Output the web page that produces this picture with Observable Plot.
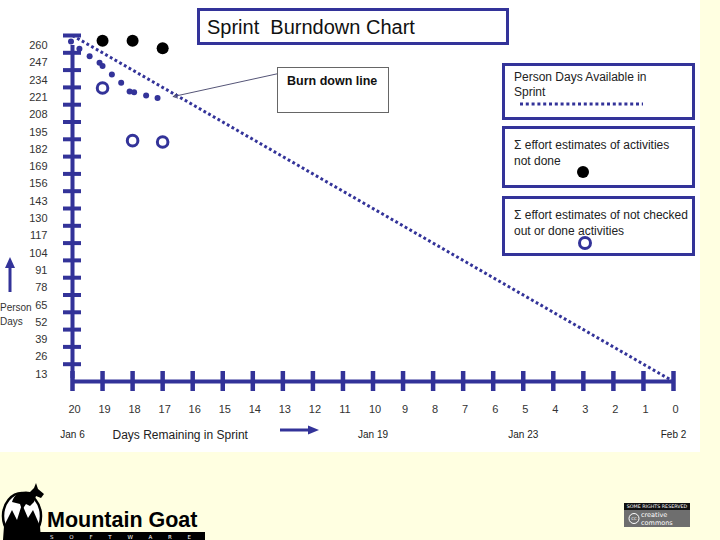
<!DOCTYPE html>
<html>
<head>
<meta charset="utf-8">
<script src="https://cdn.jsdelivr.net/npm/d3@7"></script>
<script src="https://cdn.jsdelivr.net/npm/@observablehq/plot@0.6"></script>
<style>
  html, body { margin: 0; padding: 0; }
  body { width: 720px; height: 540px; background: #FFFFE1; position: relative; overflow: hidden;
         font-family: "Liberation Sans", Arial, sans-serif; }
  #panel { position: absolute; left: 0; top: 0; width: 700px; height: 452px; background: #fff; }
  #chart { position: absolute; left: 0; top: 0; }
  .box { position: absolute; box-sizing: border-box; border: 3px solid #333399; background: #fff; color: #222; }
  .abs { position: absolute; }
</style>
</head>
<body>
<div id="panel">
  <div id="chart"></div>
  <div class="box" style="left:197px;top:8px;width:312px;height:37px;font-size:20px;padding:5px 0 0 7px;color:#111;">Sprint&nbsp; Burndown Chart</div>
  <div class="abs" style="left:277px;top:67px;width:112px;height:46px;box-sizing:border-box;border:1px solid #666;background:#fff;font-size:12.5px;font-weight:bold;padding:6px 0 0 9px;color:#111;">Burn down line</div>
  <div class="box" style="left:502px;top:63px;width:193px;height:57px;font-size:12px;line-height:15px;padding:4px 0 0 9px;">Person Days Available in<br>Sprint</div>
  <div class="box" style="left:502px;top:126px;width:193px;height:62px;font-size:12px;line-height:16px;padding:8px 0 0 9px;">Σ effort estimates of activities<br>not done</div>
  <div class="box" style="left:502px;top:196px;width:193px;height:60px;font-size:12px;line-height:16px;padding:8px 0 0 9px;">Σ effort estimates of not checked<br>out or done activities</div>
  <svg class="abs" style="left:0;top:0" width="700" height="452">
    <line x1="520" y1="104" x2="643" y2="104" stroke="#333399" stroke-width="3" stroke-dasharray="3,2.8"/>
    <circle cx="583" cy="172" r="6" fill="#000"/>
    <circle cx="585" cy="243" r="5.5" fill="#fff" stroke="#333399" stroke-width="3"/>
    <line x1="10" y1="292" x2="10" y2="266" stroke="#333399" stroke-width="3"/>
    <path d="M5,268 L10,257 L15,268 Z" fill="#333399"/>
    <text x="0" y="311" font-size="10" fill="#333">Person</text>
    <text x="0" y="325" font-size="10" fill="#333">Days</text>
    <line x1="280" y1="430" x2="310" y2="430" stroke="#333399" stroke-width="3"/>
    <path d="M308,425.5 L319,430 L308,434.5 Z" fill="#333399"/>
  </svg>
</div>

<svg class="abs" style="left:0;top:480px" width="210" height="60">
  <ellipse cx="22" cy="36" rx="19" ry="23" fill="#fff" stroke="#000" stroke-width="2.5"/>
  <path d="M4,46 L12,30 L17,40 L22,24 L28,38 L33,30 L40,46 L41,60 L3,60 Z" fill="#000"/>
  <path d="M12,22 C14,14 22,10 30,12 L34,8 L36,3 L38,9 L44,14 L41,18 L36,16 L34,22 L30,26 L26,24 L22,30 L20,24 Z" fill="#000"/>
  <text x="47" y="47" font-size="21.5" font-weight="bold" font-family="'Liberation Sans', Arial, sans-serif" fill="#000">Mountain Goat</text>
  <rect x="33" y="52" width="172" height="8" fill="#000"/>
  <text x="50" y="58.7" font-size="5.5" fill="#fff" letter-spacing="15.8" font-family="'DejaVu Sans', sans-serif">SOFTWARE</text>
</svg>

<svg class="abs" style="left:624px;top:503px" width="66" height="24">
  <rect x="0" y="0" width="66" height="24" fill="#6e6e6e"/>
  <rect x="0" y="0" width="66" height="7" fill="#111"/>
  <text x="33" y="5.3" font-size="4.8" text-anchor="middle" fill="#fff" font-family="'DejaVu Sans', sans-serif">SOME RIGHTS RESERVED</text>
  <circle cx="10" cy="15.5" r="5" fill="none" stroke="#fff" stroke-width="1"/>
  <text x="10" y="17.3" font-size="5" text-anchor="middle" fill="#fff" font-family="'DejaVu Sans', sans-serif">cc</text>
  <text x="17" y="14" font-size="6.5" fill="#fff" font-family="'DejaVu Sans', sans-serif">creative</text>
  <text x="17" y="22" font-size="6.5" fill="#fff" font-family="'DejaVu Sans', sans-serif">commons</text>
</svg>

<script>
const navy = "#333399";

// Axis ticks
const yTicks = [13, 26, 39, 52, 65, 78, 91, 104, 117, 130, 143, 156, 169, 182, 195, 208, 221, 234, 247, 260];
const xTicks = [20, 19, 18, 17, 16, 15, 14, 13, 12, 11, 10, 9, 8, 7, 6, 5, 4, 3, 2, 1, 0];

// Calendar dates under selected days
const dateDays = [20, 10, 5, 0];
const dateLabels = ["Jan 6", "Jan 19", "Jan 23", "Feb 2"];

// Ideal burndown line (days remaining → person days)
const idealDays = [20, 0];
const idealValues = [260, 0];

// Σ effort estimates of activities not done (filled)
const notDoneDays = [19, 18, 17];
const notDoneValues = [256, 256, 250.5];

// Σ effort estimates of not checked out or done activities (open)
const notCheckedDays = [19, 18, 17];
const notCheckedValues = [220.5, 181, 180];

// Person days available (large dotted trace)
const availDays = [20.05, 19.77, 19.43, 19.1, 19.0, 18.69, 18.38, 18.1, 17.95, 17.55, 17.17];
const availValues = [255.5, 250, 244.5, 239.5, 237, 230.7, 224.5, 218, 217.4, 215, 213];

// Callout leader for the burn down line label
const callout = [{x1: 13.15, y1: 231.4, x2: 16.65, y2: 214.1}];

const ideal = idealDays.map((d, i) => ({day: d, value: idealValues[i]}));
const notDone = notDoneDays.map((d, i) => ({day: d, value: notDoneValues[i]}));
const notChecked = notCheckedDays.map((d, i) => ({day: d, value: notCheckedValues[i]}));
const avail = availDays.map((d, i) => ({day: d, value: availValues[i]}));
const dates = dateDays.map((d, i) => ({day: d, label: dateLabels[i]}));

const chart = Plot.plot({
  width: 700,
  height: 452,
  marginLeft: 72,
  marginRight: 27,
  marginTop: 35,
  marginBottom: 71,
  x: {domain: [20, 0], axis: null},
  y: {domain: [0, 260], axis: null},
  style: {fontFamily: "'Liberation Sans', Arial, sans-serif", background: "transparent", overflow: "visible"},
  marks: [
    Plot.axisY(yTicks, {anchor: "left", tickSize: 18, dx: 9, tickFormat: () => "", stroke: navy, strokeWidth: 4, label: null}),
    Plot.axisY(yTicks, {anchor: "left", tickSize: 0, tickPadding: 25, dy: 10, fontSize: 11, fill: "#333", label: null}),
    Plot.axisX(xTicks, {anchor: "bottom", tickSize: 20, dy: -10, tickFormat: () => "", stroke: navy, strokeWidth: 4.5, label: null}),
    Plot.axisX(xTicks, {anchor: "bottom", tickSize: 0, tickPadding: 24, dx: 2, fontSize: 11, fill: "#333", label: null}),
    Plot.ruleX([20], {y1: 0, y2: 260, stroke: navy, strokeWidth: 4, insetTop: -3, insetBottom: -10}),
    Plot.ruleY([0], {x1: 20, x2: 0, stroke: navy, strokeWidth: 4, insetRight: -2}),
    Plot.line(ideal, {x: "day", y: "value", stroke: navy, strokeWidth: 3, strokeDasharray: "2.8,2.6", strokeLinecap: "butt"}),
    Plot.dot(avail, {x: "day", y: "value", r: 3, fill: navy}),
    Plot.arrow(callout, {x1: "x1", y1: "y1", x2: "x2", y2: "y2", stroke: "#555577", strokeWidth: 1, headLength: 7}),
    Plot.dot(notDone, {x: "day", y: "value", r: 6, fill: "#000"}),
    Plot.dot(notChecked, {x: "day", y: "value", r: 5.3, fill: "#fff", stroke: navy, strokeWidth: 3}),
    Plot.text(dates, {x: "day", text: "label", frameAnchor: "bottom", dy: 56, fontSize: 10, fill: "#222"}),
    Plot.text(["Days Remaining in Sprint"], {frameAnchor: "bottom-left", dx: 40, dy: 57, fontSize: 12, fill: "#222", textAnchor: "start"})
  ]
});
document.getElementById("chart").appendChild(chart);
</script>
</body>
</html>
